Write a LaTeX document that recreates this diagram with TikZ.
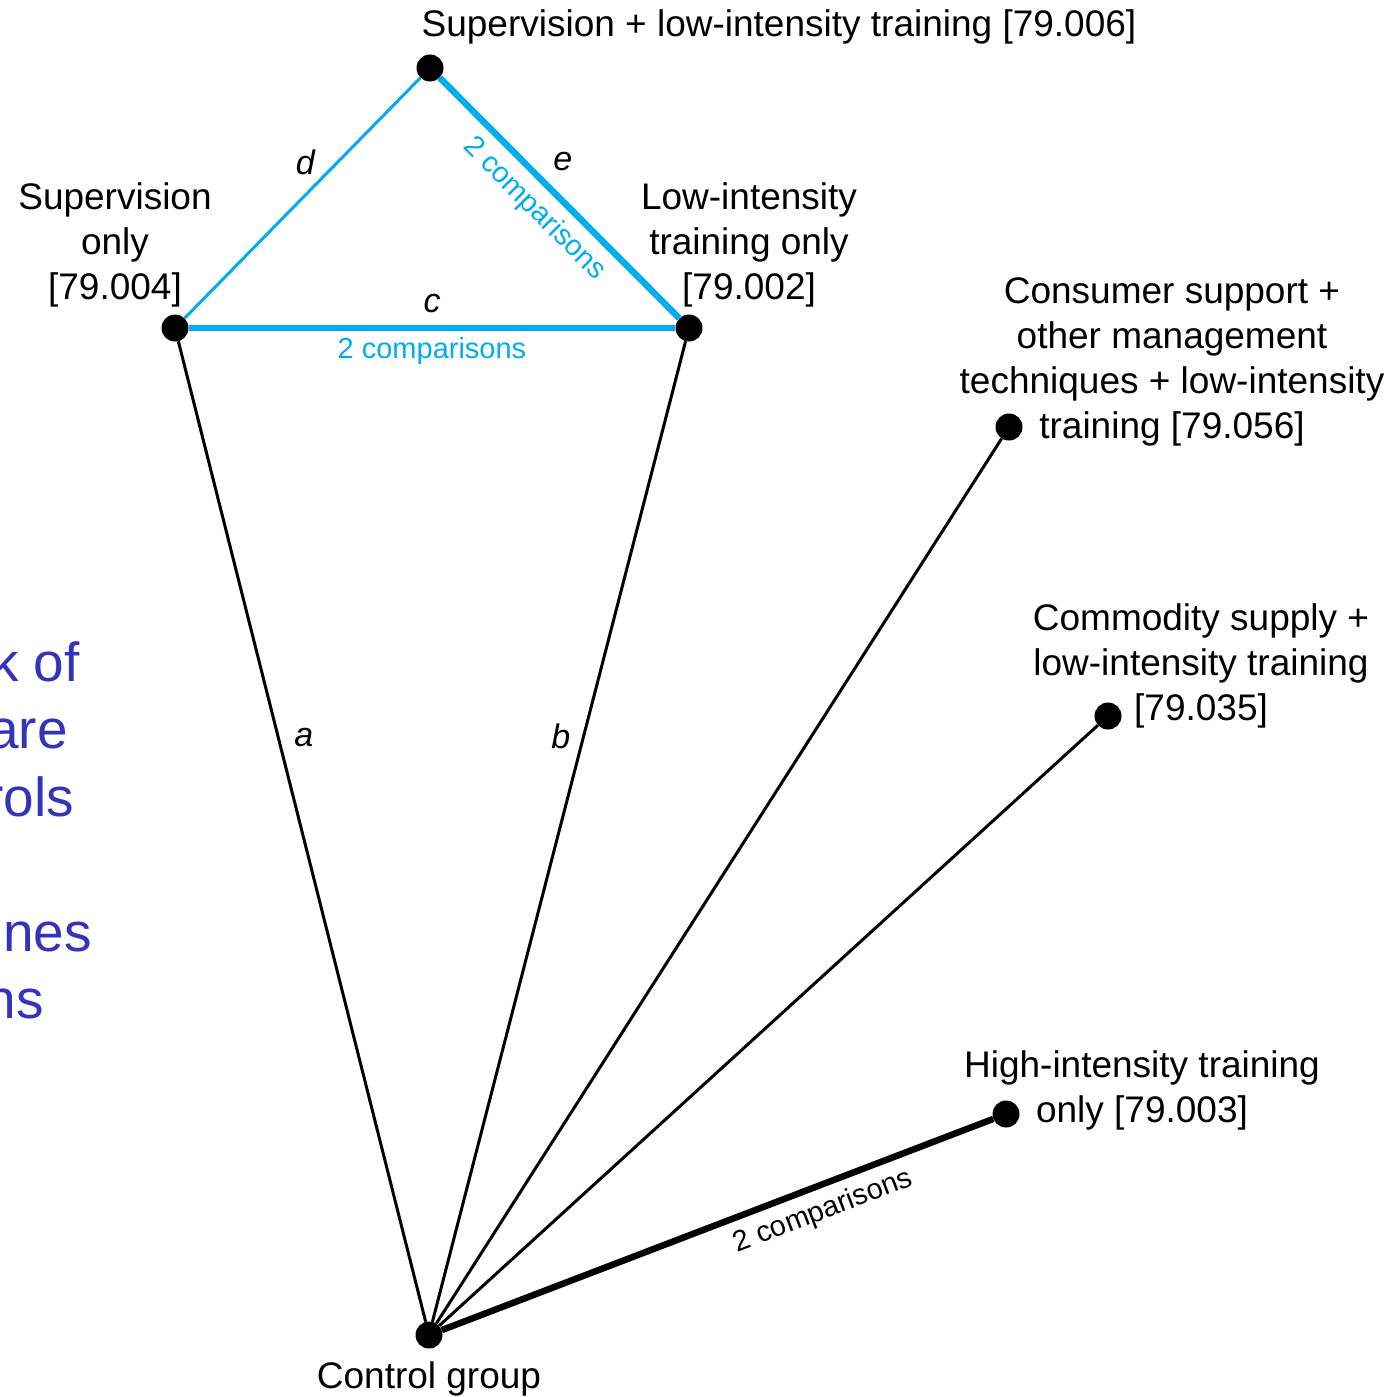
\documentclass[tikz,border=0pt]{standalone}
\usepackage{fontspec}
\setmainfont{Liberation Sans}
\definecolor{cyanline}{RGB}{0,174,239}
\definecolor{slideblue}{RGB}{51,51,187}
\begin{document}
\begin{tikzpicture}[x=1pt,y=-1pt,
  dot/.style={circle,fill=black,minimum size=27pt,inner sep=0pt},
  lbl/.style={align=center,font=\fontsize{37}{45}\selectfont,inner sep=0pt},
  elbl/.style={font=\fontsize{34}{40}\selectfont\itshape,inner sep=0pt},
  cmp/.style={font=\fontsize{29}{34}\selectfont,inner sep=9pt},
  thinedge/.style={line width=3pt},
  thickedge/.style={line width=6.5pt},
  frag/.style={anchor=base east,text=slideblue,font=\fontsize{55}{67}\selectfont,inner sep=0pt}]
\useasboundingbox (0,0) rectangle (1394,1397);
\clip (0,0) rectangle (1394,1397);
\fill[white] (0,0) rectangle (1394,1397);

% cut-off slide text on the left
\node[frag] (f1) at (80,681) {k of};
\node[frag] (f2) at (68,748) {are};
\node[frag] (f3) at (74,816) {rols};
\node[frag] (f4) at (92,951) {nes};
\node[frag] (f5) at (44,1018) {ns};

% dots
\node[dot] (top) at (430,68) {};
\node[dot] (sup) at (175,328) {};
\node[dot] (low) at (689,328) {};
\node[dot] (cons) at (1009,427) {};
\node[dot] (comm) at (1108,716) {};
\node[dot] (high) at (1006,1114) {};
\node[dot] (ctrl) at (429,1335) {};

% edges
\draw[thinedge,cyanline] (top) -- (sup) node[elbl,text=black,pos=0.42,shift={(-16,-16)}] {d};
\draw[thickedge,cyanline] (top) -- (low)
  node[elbl,text=black,pos=0.43,shift={(20,-20)}] {e}
  node[cmp,text=cyanline,pos=0.47,sloped,below] {2 comparisons};
\draw[thickedge,cyanline] (sup) -- (low)
  node[elbl,text=black,midway,shift={(0,-24)}] {c}
  node[cmp,text=cyanline,midway,shift={(0,23)},inner sep=0pt] {2 comparisons};
\draw[thinedge] (sup) -- (ctrl) node[elbl,pos=0.41,shift={(24,-6)}] {a};
\draw[thinedge] (low) -- (ctrl) node[elbl,pos=0.41,shift={(-21,-7)}] {b};
\draw[thinedge] (cons) -- (ctrl);
\draw[thinedge] (comm) -- (ctrl);
\draw[thickedge] (ctrl) -- (high) node[cmp,pos=0.675,sloped,below] {2 comparisons};

% labels
\node[lbl] (ltop) at (779,27) {Supervision + low-intensity training [79.006]};
\node[lbl] (lsup) at (115,245) {Supervision\\only\\[0pt][79.004]};
\node[lbl] (llow) at (749,245) {Low-intensity\\training only\\[0pt][79.002]};
\node[lbl] (lcons) at (1172,362) {Consumer support +\\other management\\techniques + low-intensity\\training [79.056]};
\node[lbl] (lcomm) at (1201,666) {Commodity supply +\\low-intensity training\\[0pt][79.035]};
\node[lbl] (lhigh) at (1142,1090) {High-intensity training\\only [79.003]};
\node[lbl] (lctrl) at (429,1379) {Control group};
\end{tikzpicture}
\end{document}
